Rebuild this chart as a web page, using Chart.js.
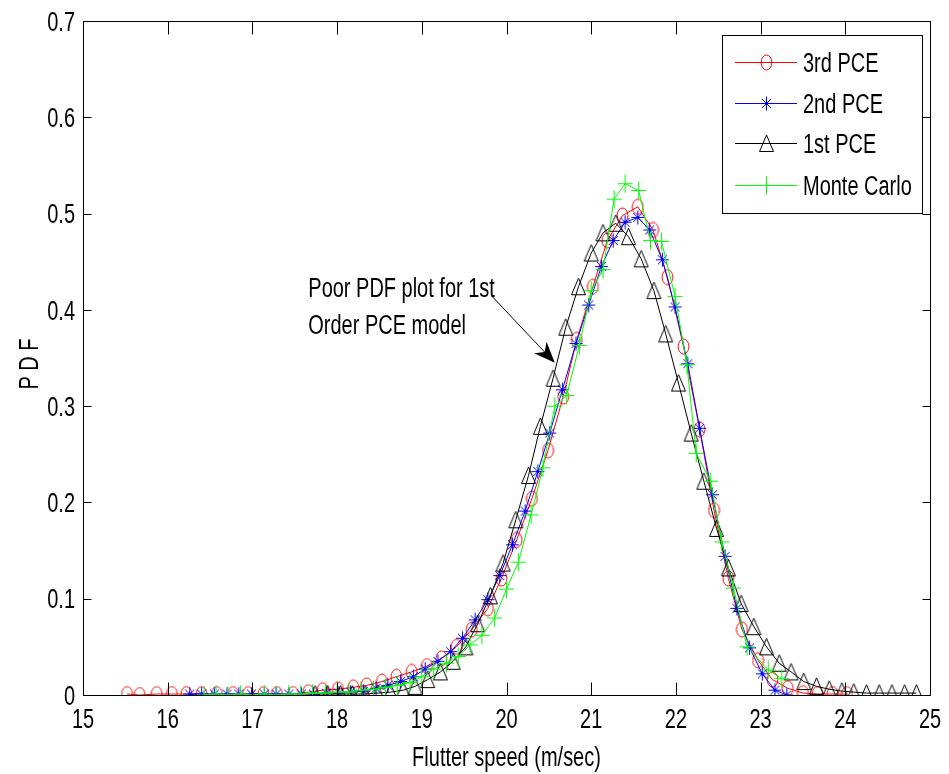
<!DOCTYPE html>
<html><head><meta charset="utf-8">
<script src="https://cdn.jsdelivr.net/npm/chart.js@4.4.0/dist/chart.umd.min.js"></script>
<style>html,body{margin:0;padding:0;background:#fff;}#wrap{width:949px;height:774px;}</style>
</head><body><div id="wrap"><canvas id="c" width="949" height="774"></canvas></div>
<script>
// ---------- data ----------
const pce3X = [15.52,15.67,15.87,16.05,16.22,16.40,16.58,16.77,16.95,17.13,17.29,17.48,17.66,17.83,18.01,18.19,18.35,18.53,18.70,18.88,19.06,19.23,19.41,19.59,19.78,19.94,20.12,20.30,20.49,20.67,20.83,21.02,21.19,21.37,21.55,21.73,21.90,22.09,22.28,22.45,22.62,22.78,22.97,23.14,23.32,23.50,23.67,23.85,24.02];
const pce3Y = [0.001,0.000,0.001,0.001,0.001,0.001,0.001,0.001,0.001,0.001,0.001,0.001,0.003,0.005,0.006,0.008,0.010,0.014,0.019,0.024,0.030,0.038,0.050,0.068,0.090,0.121,0.161,0.204,0.254,0.310,0.369,0.424,0.472,0.498,0.507,0.483,0.434,0.362,0.276,0.192,0.121,0.068,0.036,0.016,0.007,0.002,0.001,0.001,0.001];

const pce2X = [16.26,16.40,16.55,16.70,16.84,16.99,17.14,17.28,17.43,17.58,17.72,17.87,18.02,18.16,18.31,18.46,18.60,18.75,18.90,19.04,19.19,19.34,19.48,19.63,19.78,19.92,20.07,20.22,20.37,20.51,20.66,20.82,20.97,21.12,21.26,21.40,21.55,21.69,21.84,21.99,22.14,22.28,22.43,22.58,22.72,22.87,23.02,23.17,23.31];
const pce2Y = [0.001,0.001,0.001,0.001,0.001,0.001,0.001,0.001,0.001,0.001,0.001,0.002,0.002,0.003,0.004,0.007,0.010,0.014,0.019,0.027,0.035,0.045,0.059,0.078,0.099,0.124,0.156,0.191,0.232,0.272,0.317,0.365,0.405,0.445,0.472,0.491,0.496,0.483,0.452,0.403,0.344,0.277,0.208,0.144,0.090,0.049,0.022,0.005,0.000];

const pce1X = [17.74,17.89,18.04,18.18,18.33,18.48,18.63,18.78,18.92,19.07,19.22,19.37,19.52,19.66,19.81,19.96,20.11,20.26,20.40,20.55,20.70,20.85,21.00,21.14,21.29,21.44,21.59,21.74,21.88,22.03,22.18,22.33,22.48,22.62,22.77,22.92,23.07,23.22,23.36,23.51,23.66,23.81,23.96,24.10,24.25,24.40,24.55,24.70,24.84];
const pce1Y = [0.001,0.001,0.001,0.001,0.001,0.002,0.003,0.005,0.009,0.016,0.024,0.035,0.050,0.074,0.103,0.137,0.182,0.228,0.279,0.329,0.382,0.424,0.459,0.480,0.490,0.476,0.453,0.420,0.375,0.324,0.272,0.222,0.173,0.132,0.095,0.071,0.050,0.033,0.024,0.014,0.009,0.006,0.004,0.003,0.002,0.002,0.002,0.002,0.002];

const mcX = [16.43,16.57,16.71,16.86,17.00,17.14,17.28,17.43,17.57,17.71,17.86,18.00,18.14,18.28,18.43,18.57,18.71,18.86,19.00,19.14,19.29,19.43,19.57,19.71,19.86,20.00,20.14,20.29,20.43,20.57,20.71,20.86,21.00,21.14,21.27,21.40,21.56,21.70,21.83,21.99,22.13,22.24,22.41,22.54,22.68,22.84,23.09,23.25];
const mcY = [0.000,0.001,0.000,0.001,0.000,0.001,0.000,0.001,0.001,0.002,0.002,0.003,0.003,0.005,0.006,0.008,0.010,0.013,0.019,0.027,0.033,0.040,0.052,0.062,0.080,0.110,0.138,0.187,0.236,0.300,0.311,0.363,0.420,0.442,0.515,0.531,0.524,0.472,0.471,0.414,0.343,0.251,0.222,0.159,0.111,0.050,0.026,0.017];

const seriesNames = ['3rd PCE','2nd PCE','1st PCE','Monte Carlo'];
const xTickValues = [15,16,17,18,19,20,21,22,23,24,25];
const xTickLabels = ['15','16','17','18','19','20','21','22','23','24','25'];
const yTickValues = [0,0.1,0.2,0.3,0.4,0.5,0.6,0.7];
const yTickLabels = ['0','0.1','0.2','0.3','0.4','0.5','0.6','0.7'];
const xTitle = 'Flutter speed (m/sec)';
const yTitle = 'P D F';
const noteLines = ['Poor PDF plot for 1st','Order PCE model'];
const noteAt = [17.66, 0.413, 0.375];       // x, baseline y line1, line2
const arrowFrom = [19.83, 0.414];
const arrowTo = [20.57, 0.345];

// ---------- styles ----------
const FONT = "'Liberation Sans',Arial,sans-serif";
const FS = 27;      // glyph height
const SX = 0.74;    // narrow glyphs

function mk(w,h,fn){const c=document.createElement('canvas');c.width=w;c.height=h;const g=c.getContext('2d');g.lineWidth=1;fn(g,w,h);return c;}
const mCircle = mk(13,17,(g)=>{g.strokeStyle='#ff0000';g.beginPath();g.ellipse(6.5,8.5,5.4,7.5,0,0,Math.PI*2);g.stroke();});
const mStar = mk(15,15,(g)=>{g.strokeStyle='#0000ff';g.beginPath();
  g.moveTo(7.5,0.5);g.lineTo(7.5,14.5);g.moveTo(1,7.5);g.lineTo(14,7.5);
  g.moveTo(3,3);g.lineTo(12,12);g.moveTo(12,3);g.lineTo(3,12);g.stroke();});
const mTri = mk(17,19,(g)=>{g.strokeStyle='#000000';g.beginPath();g.moveTo(8.5,1);g.lineTo(1.5,17.5);g.lineTo(15.5,17.5);g.closePath();g.stroke();});
const mPlus = mk(17,19,(g)=>{g.strokeStyle='#00ff00';g.beginPath();g.moveTo(8.5,0.5);g.lineTo(8.5,18.5);g.moveTo(1,9.5);g.lineTo(16,9.5);g.stroke();});

const colors = ['#ff0000','#0000ff','#000000','#00ff00'];
const markers = [mCircle,mStar,mTri,mPlus];
const xs = [pce3X,pce2X,pce1X,mcX], ys=[pce3Y,pce2Y,pce1Y,mcY];

const datasets = seriesNames.map((n,i)=>({
  label:n,
  data: xs[i].map((x,k)=>({x:x,y:ys[i][k]})),
  showLine:true, borderColor:colors[i], borderWidth:1, backgroundColor:'rgba(0,0,0,0)',
  pointStyle:markers[i], pointRadius:6, pointHoverRadius:6, tension:0,
  order: 4-i
}));

function txt(ctx, s, x, y, align, rot){
  ctx.save(); ctx.translate(x,y); if(rot) ctx.rotate(rot); ctx.scale(SX,1);
  ctx.textAlign=align; ctx.textBaseline='alphabetic'; ctx.fillText(s,0,0); ctx.restore();
}

const deco = {
  id:'deco',
  afterDraw(chart){
    const {ctx, chartArea:a, scales:{x,y}} = chart;
    ctx.save();
    ctx.strokeStyle='#000'; ctx.lineWidth=1;
    const L=Math.round(a.left)+0.5, R=Math.round(a.right)+0.5, T=Math.round(a.top)+0.5, B=Math.round(a.bottom)+0.5;
    ctx.strokeRect(L,T,R-L,B-T);
    ctx.beginPath();
    xTickValues.forEach(v=>{const p=Math.round(x.getPixelForValue(v))+0.5;ctx.moveTo(p,B);ctx.lineTo(p,B-13);ctx.moveTo(p,T);ctx.lineTo(p,T+13);});
    yTickValues.forEach(v=>{const p=Math.round(y.getPixelForValue(v))+0.5;ctx.moveTo(L,p);ctx.lineTo(L+8,p);ctx.moveTo(R,p);ctx.lineTo(R-8,p);});
    ctx.stroke();
    // tick labels and titles
    ctx.fillStyle='#000'; ctx.font = FS+'px '+FONT;
    xTickValues.forEach((v,i)=>txt(ctx, xTickLabels[i], x.getPixelForValue(v), a.bottom+33, 'center'));
    yTickValues.forEach((v,i)=>txt(ctx, yTickLabels[i], a.left-8, y.getPixelForValue(v)+9.7, 'right'));
    txt(ctx, xTitle, (a.left+a.right)/2, a.bottom+71, 'center');
    txt(ctx, yTitle, a.left-45, (a.top+a.bottom)/2+6, 'center', -Math.PI/2);
    // annotation
    txt(ctx, noteLines[0], x.getPixelForValue(noteAt[0]), y.getPixelForValue(noteAt[1]), 'left');
    txt(ctx, noteLines[1], x.getPixelForValue(noteAt[0]), y.getPixelForValue(noteAt[2]), 'left');
    const x0=x.getPixelForValue(arrowFrom[0]), y0=y.getPixelForValue(arrowFrom[1]);
    const x1=x.getPixelForValue(arrowTo[0]), y1=y.getPixelForValue(arrowTo[1]);
    const dx=x1-x0, dy=y1-y0, len=Math.hypot(dx,dy), ux=dx/len, uy=dy/len, px=-uy, py=ux;
    const hl=21, hw=8.5;
    ctx.beginPath(); ctx.moveTo(x0,y0); ctx.lineTo(x1-ux*hl*0.7,y1-uy*hl*0.7); ctx.stroke();
    ctx.beginPath();
    ctx.moveTo(x1,y1);
    ctx.lineTo(x1-ux*hl+px*hw, y1-uy*hl+py*hw);
    ctx.lineTo(x1-ux*hl*0.7, y1-uy*hl*0.7);
    ctx.lineTo(x1-ux*hl-px*hw, y1-uy*hl-py*hw);
    ctx.closePath(); ctx.fill();
    // legend
    const bw=200, bh=178, bx=Math.round(a.right)-8-bw, by=Math.round(a.top)+14;
    ctx.fillStyle='#fff'; ctx.fillRect(bx,by,bw,bh);
    ctx.strokeStyle='#000'; ctx.strokeRect(bx+0.5,by+0.5,bw,bh);
    const rows=[27,68,108,150];
    seriesNames.forEach((n,i)=>{
      const ry=by+rows[i]+0.5;
      ctx.strokeStyle=colors[i]; ctx.beginPath(); ctx.moveTo(bx+13,ry); ctx.lineTo(bx+75,ry); ctx.stroke();
      const m=markers[i]; ctx.drawImage(m, Math.round(bx+44-m.width/2), Math.round(ry-m.height/2));
      ctx.fillStyle='#000'; txt(ctx, n, bx+81, ry+9.7, 'left');
    });
    ctx.restore();
  }
};

new Chart(document.getElementById('c'), {
  type:'scatter',
  data:{datasets},
  options:{
    responsive:false, animation:false, devicePixelRatio:1,
    layout:{padding:{top:21,right:19,left:0,bottom:0}},
    plugins:{legend:{display:false}, tooltip:{enabled:false}},
    scales:{
      x:{type:'linear',min:15,max:25,
         afterFit(s){s.height=79;},
         afterBuildTicks(s){s.ticks=xTickValues.map(v=>({value:v}));},
         grid:{display:false,drawTicks:false}, border:{display:false},
         ticks:{display:false}, title:{display:false}},
      y:{type:'linear',min:0,max:0.7,
         afterFit(s){s.width=83;},
         afterBuildTicks(s){s.ticks=yTickValues.map(v=>({value:v}));},
         grid:{display:false,drawTicks:false}, border:{display:false},
         ticks:{display:false}, title:{display:false}}
    }
  },
  plugins:[deco]
});
</script></body></html>
